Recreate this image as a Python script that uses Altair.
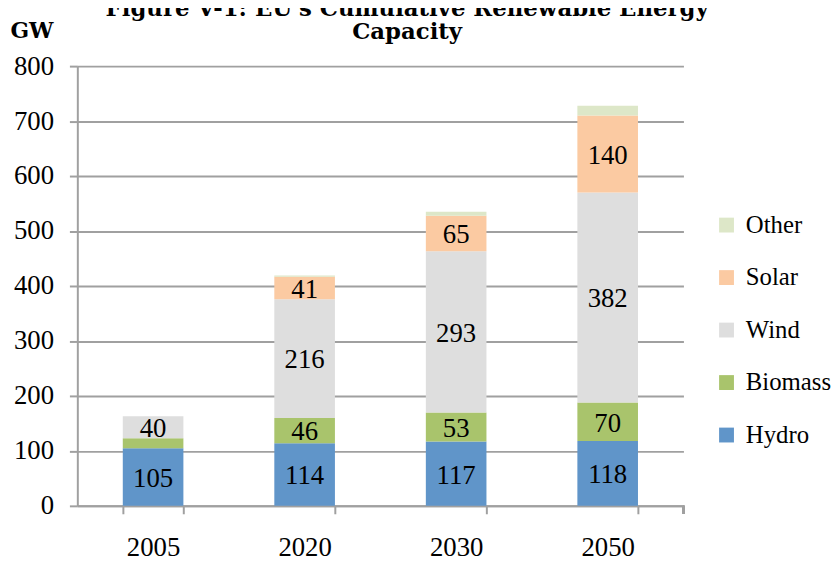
import altair as alt
import pandas as pd

years = ["2005", "2020", "2030", "2050"]
sources = ["Hydro", "Biomass", "Wind", "Solar", "Other"]
hydro = [105, 114, 117, 118]
biomass = [18, 46, 53, 70]
wind = [40, 216, 293, 382]
solar = [0, 41, 65, 140]
other = [0, 2, 7, 18]
show_label = {
    "Hydro": [True, True, True, True],
    "Biomass": [False, True, True, True],
    "Wind": [True, True, True, True],
    "Solar": [False, True, True, True],
    "Other": [False, False, False, False],
}
legend_order = ["Other", "Solar", "Wind", "Biomass", "Hydro"]
colors = ["#DDE7C8", "#FBCAA2", "#DEDEDE", "#A9C46C", "#6095C9"]
title_lines = ["Figure V-1: EU's Cumulative Renewable Energy", "Capacity"]

series = {"Hydro": hydro, "Biomass": biomass, "Wind": wind, "Solar": solar, "Other": other}
rows = []
for si, s in enumerate(sources):
    for yi, y in enumerate(years):
        rows.append({"year": y, "source": s, "value": series[s][yi], "idx": si,
                     "show": show_label[s][yi]})
df = pd.DataFrame(rows)

FONT = "Liberation Serif"
TFONT = "DejaVu Serif"
W, H = 612, 444

xenc = alt.X("year:N", sort=years, title=None,
             scale=alt.Scale(paddingInner=0.6, paddingOuter=0.3),
             axis=alt.Axis(labelAngle=0, bandPosition=0, tickBand="extent",
                           domainColor="#A0A0A0", domainWidth=2, tickColor="#A0A0A0",
                           tickWidth=2, tickSize=8, labelPadding=21, labelFontSize=27,
                           labelFont=FONT, labelColor="black", grid=False))

bars = alt.Chart(df).mark_bar().encode(
    x=xenc,
    y=alt.Y("value:Q", stack="zero", scale=alt.Scale(domain=[0, 800]),
            axis=alt.Axis(values=list(range(0, 801, 100)), title="GW", titleAngle=0,
                          titleX=-68, titleY=-29, titleAlign="left", titleBaseline="alphabetic",
                          titleFont=TFONT, titleFontSize=22, titleFontWeight="bold",
                          titleColor="black",
                          gridColor="#A0A0A0", gridWidth=2, domainColor="#A0A0A0",
                          domainWidth=2, tickColor="#A0A0A0", tickWidth=2, tickSize=8,
                          labelFont=FONT, labelFontSize=27, labelColor="black",
                          labelPadding=16)),
    color=alt.Color("source:N", scale=alt.Scale(domain=legend_order, range=colors),
                    legend=alt.Legend(title=None, orient="none", legendX=643, legendY=148,
                                      symbolType="square", symbolSize=225,
                                      symbolStrokeWidth=0, labelFont=FONT,
                                      labelFontSize=25, labelColor="black",
                                      rowPadding=27, labelOffset=7)),
    order=alt.Order("idx:Q", sort="ascending"),
)

labels = alt.Chart(df).transform_stack(
    stack="value", groupby=["year"], as_=["v0", "v1"],
    sort=[alt.SortField("idx", order="ascending")]
).transform_calculate(
    mid="(datum.v0 + datum.v1) / 2"
).transform_filter("datum.show").mark_text(
    font=FONT, fontSize=27, color="black", baseline="middle", dy=2
).encode(
    x=alt.X("year:N", sort=years),
    y=alt.Y("mid:Q"),
    text=alt.Text("value:Q"),
)

end_tick = alt.Chart(df).mark_rule(color="#A0A0A0", strokeWidth=2).encode(
    x=alt.value(W), y=alt.value(H), y2=alt.value(H + 8))

title_df = pd.DataFrame({"t": title_lines, "line": [0, 1]})
title1 = alt.Chart(title_df).transform_filter("datum.line == 0").mark_text(
    font=TFONT, fontSize=23, fontWeight="bold", color="black", baseline="alphabetic",
    align="center").encode(x=alt.value(333), y=alt.value(-51), text="t:N")
title2 = alt.Chart(title_df).transform_filter("datum.line == 1").mark_text(
    font=TFONT, fontSize=23, fontWeight="bold", color="black", baseline="alphabetic",
    align="center").encode(x=alt.value(333), y=alt.value(-27), text="t:N")

chart = alt.layer(bars, labels, end_tick, title1, title2).properties(
    width=W, height=H,
    autosize=alt.AutoSizeParams(type="none"),
    padding={"left": 70, "top": 56, "right": 150, "bottom": 53},
).configure_view(stroke=None)

chart.save("out.html", embed_options={"renderer": "svg", "actions": False})
